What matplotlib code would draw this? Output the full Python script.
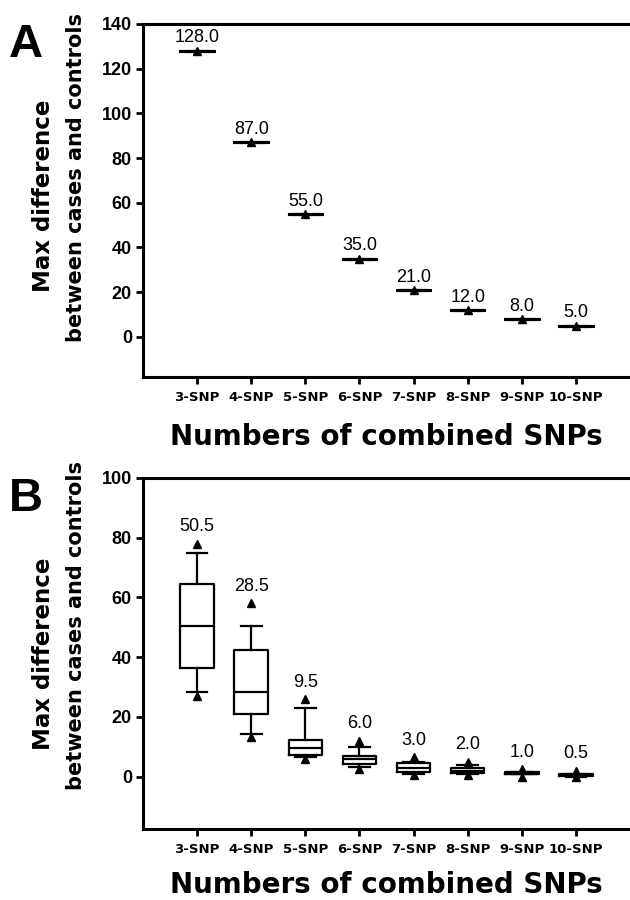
import matplotlib
matplotlib.use("Agg")
from matplotlib import pyplot as plt

# Data
snp_labels = ['3-SNP', '4-SNP', '5-SNP', '6-SNP',
              '7-SNP', '8-SNP', '9-SNP', '10-SNP']

# panel A: one value per combination
a_values = [128.0, 87.0, 55.0, 35.0, 21.0, 12.0, 8.0, 5.0]

# panel B: box plot summaries
b_whislo = [28.5, 14.3, 6.7, 3.3, 1.0, 1.0, 1.0, 0.0]
b_q1 = [36.5, 21.0, 7.3, 4.3, 1.7, 1.3, 1.0, 0.3]
b_med = [50.5, 28.5, 9.5, 6.0, 3.0, 2.0, 1.0, 0.5]
b_q3 = [64.5, 42.3, 12.3, 7.0, 4.5, 3.0, 1.7, 1.0]
b_whishi = [75.0, 50.5, 23.0, 10.0, 5.0, 4.0, 1.7, 1.0]
b_flier_low = [27.0, 13.3, 6.0, 2.7, 0.5, 0.5, 0.0, 0.0]
b_flier_high = [78.0, 58.0, 26.0, 12.0, 6.5, 5.0, 2.5, 2.0]

LABEL_FONT = 'DejaVu Sans'
NUM_FONT = 'Liberation Sans'


def style_axes(ax, ymax, ymin, ystep, labelpad):
    """Spines, ticks and limits shared by both panels."""
    ax.set_xlim(0, 9)
    ax.set_ylim(ymin, ymax)
    ax.set_xticks(range(1, 9))
    ax.set_xticklabels(snp_labels, fontfamily=LABEL_FONT,
                       fontweight='bold', fontsize=9.5)
    ax.set_yticks(range(0, ymax + 1, ystep))
    ax.set_yticklabels([str(v) for v in range(0, ymax + 1, ystep)],
                       fontfamily=NUM_FONT, fontweight='bold', fontsize=13)
    ax.spines['right'].set_visible(False)
    for side in ['left', 'bottom', 'top']:
        ax.spines[side].set_linewidth(2.2)
    ax.tick_params(axis='both', direction='out', length=5, width=2)
    ax.tick_params(axis='x', pad=5)
    ax.tick_params(axis='y', pad=3)
    ax.set_xlabel('Numbers of combined SNPs', fontfamily=LABEL_FONT,
                  fontweight='bold', fontsize=20, labelpad=labelpad)


def draw_boxes(ax, stats, labels, offset):
    ax.bxp(stats, positions=range(1, 9), widths=0.62, showfliers=True,
           boxprops=dict(color='black', linewidth=1.6),
           medianprops=dict(color='black', linewidth=1.6),
           whiskerprops=dict(color='black', linewidth=1.6),
           capprops=dict(color='black', linewidth=1.6),
           capwidths=0.38,
           flierprops=dict(marker='^', markerfacecolor='black',
                           markeredgecolor='black', markersize=6))
    for i, s in enumerate(stats):
        top = max(s['fliers']) if len(s['fliers']) else s['whishi']
        ax.annotate(labels[i], (i + 1, top), xytext=(0, offset),
                    textcoords='offset points', ha='center', va='baseline',
                    fontfamily=NUM_FONT, fontsize=13)


def main():
    fig = plt.figure(figsize=(6.3, 9), dpi=100)

    # Panel A
    axA = fig.add_axes([143 / 630, 1 - 377 / 900, 487 / 630, 353 / 900])
    stats_a = [dict(whislo=v, q1=v, med=v, q3=v, whishi=v, fliers=[v])
               for v in a_values]
    draw_boxes(axA, stats_a, ['%.1f' % v for v in a_values], 6)
    for line in axA.lines:
        line.set_linewidth(2.2)
    style_axes(axA, 140, -18, 20, 14)

    # Panel B
    axB = fig.add_axes([143 / 630, 1 - 829 / 900, 487 / 630, 351 / 900])
    stats_b = [dict(whislo=b_whislo[i], q1=b_q1[i], med=b_med[i],
                    q3=b_q3[i], whishi=b_whishi[i],
                    fliers=[b_flier_low[i], b_flier_high[i]])
               for i in range(len(snp_labels))]
    draw_boxes(axB, stats_b, ['%.1f' % v for v in b_med], 9)
    style_axes(axB, 100, -17.5, 20, 11)

    # y labels, two lines each
    for cy1, cy2 in [(196, 178), (654, 625)]:
        fig.text(44 / 630, 1 - cy1 / 900, 'Max difference', rotation=90,
                 ha='center', va='center', fontfamily=LABEL_FONT,
                 fontweight='bold', fontsize=16.5)
        fig.text(76 / 630, 1 - cy2 / 900, 'between cases and controls',
                 rotation=90, ha='center', va='center',
                 fontfamily=LABEL_FONT, fontweight='bold', fontsize=15)

    # panel letters
    fig.text(9 / 630, 1 - 57 / 900, 'A', fontfamily=NUM_FONT,
             fontweight='bold', fontsize=34, va='baseline')
    fig.text(9 / 630, 1 - 511 / 900, 'B', fontfamily=NUM_FONT,
             fontweight='bold', fontsize=34, va='baseline')

    fig.savefig('out.png', dpi=100, facecolor='white')


if __name__ == "__main__":
    main()
